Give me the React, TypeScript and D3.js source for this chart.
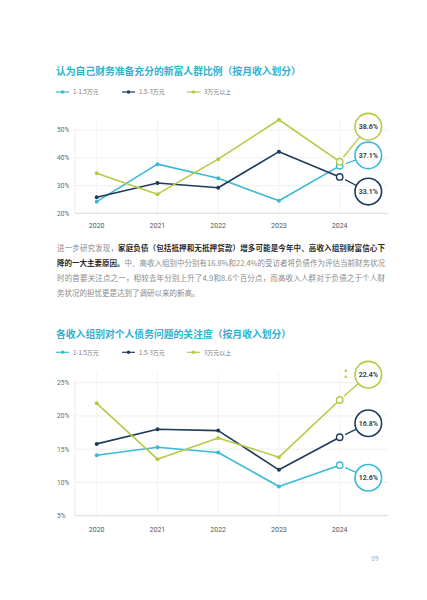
import React, { useEffect, useRef } from "react";
import * as d3 from "d3";

// shared categories
const years = ["2020", "2021", "2022", "2023", "2024"];
const seriesNames = ["1-1.5万元", "1.5-3万元", "3万元以上"];
const seriesColors = ["#3bb9d6", "#1f3b5c", "#b5ca45"];

// chart 1: share who feel financially prepared
const prepLow = [24.2, 37.7, 32.6, 24.5, 37.1];
const prepMid = [25.8, 30.9, 29.2, 42.2, 33.1];
const prepHigh = [34.4, 26.9, 39.5, 53.7, 38.6];
const prepTicks = [20, 30, 40, 50];

// chart 2: concern about personal debt
const debtLow = [14.1, 15.3, 14.5, 9.4, 12.6];
const debtMid = [15.8, 18.0, 17.8, 11.9, 16.8];
const debtHigh = [21.9, 13.5, 16.7, 13.8, 22.4];
const debtTicks = [5, 10, 15, 20, 25];

const paragraph = [
	[
		{ t: "进一步研究发现，", b: false },
		{ t: "家庭负债（包括抵押和无抵押贷款）增多可能是今年中、高收入组别财富信心下", b: true },
	],
	[
		{ t: "降的一大主要原因。", b: true },
		{ t: "中、高收入组别中分别有16.8%和22.4%的受访者将负债作为评估当前财务状况", b: false },
	],
	[{ t: "时的首要关注点之一，相较去年分别上升了4.9和8.6个百分点，而高收入人群对于负债之于个人财", b: false }],
	[{ t: "务状况的担忧更是达到了调研以来的新高。", b: false }],
];

const FONT = "'Noto Sans CJK SC', 'Noto Sans', sans-serif";
const NUM_FONT = "Roboto, 'Noto Sans', sans-serif";

type ChartCfg = {
	title: string;
	titleY: number;
	legendY: number;
	series: number[][];
	ticks: number[];
	yTop: number;
	yBottom: number;
	labelY: number;
	calloutDy: number[];
	arrows?: boolean;
};

function drawChart(svg: d3.Selection<SVGSVGElement, unknown, null, undefined>, cfg: ChartCfg) {
	const g = svg.append("g");
	const plotLeft = 75;
	const plotRight = 388;

	g.append("text")
		.attr("x", 56)
		.attr("y", cfg.titleY)
		.attr("font-family", FONT)
		.attr("font-size", 9.8)
		.attr("font-weight", 700)
		.attr("fill", "#2eb2cf")
		.text(cfg.title);

	// legend
	const legendX = [56, 122, 187];
	seriesNames.forEach((name, i) => {
		const lg = g.append("g").attr("transform", `translate(${legendX[i]},${cfg.legendY})`);
		lg.append("line").attr("x1", 0).attr("x2", 13).attr("stroke", seriesColors[i]).attr("stroke-width", 1.2);
		lg.append("circle").attr("cx", 6.5).attr("r", 1.7).attr("fill", seriesColors[i]);
		lg.append("text")
			.attr("x", 17)
			.attr("y", 2.2)
			.attr("font-family", FONT)
			.attr("font-size", 6)
			.attr("fill", "#777")
			.text(name);
	});

	const x = d3.scalePoint<string>().domain(years).range([96.7, 339.7]);
	const lo = d3.min(cfg.ticks) as number;
	const hi = d3.max(cfg.ticks) as number;
	const y = d3.scaleLinear().domain([lo, hi]).range([cfg.yBottom, cfg.yTop]);

	// grid
	g.selectAll(".hgrid")
		.data(cfg.ticks.filter((t) => t !== lo))
		.enter()
		.append("line")
		.attr("x1", plotLeft)
		.attr("x2", plotRight)
		.attr("y1", (d) => y(d))
		.attr("y2", (d) => y(d))
		.attr("stroke", "#ececec")
		.attr("stroke-width", 0.8);
	g.selectAll(".vgrid")
		.data(years)
		.enter()
		.append("line")
		.attr("x1", (d) => x(d) as number)
		.attr("x2", (d) => x(d) as number)
		.attr("y1", y(hi) - 10)
		.attr("y2", y(lo))
		.attr("stroke", "#f0f0f0")
		.attr("stroke-width", 0.8);
	g.append("line")
		.attr("x1", plotLeft)
		.attr("x2", plotLeft)
		.attr("y1", y(hi) - 2)
		.attr("y2", y(lo))
		.attr("stroke", "#e6e6e6")
		.attr("stroke-width", 0.8);
	g.append("line")
		.attr("x1", plotLeft)
		.attr("x2", plotRight)
		.attr("y1", y(lo))
		.attr("y2", y(lo))
		.attr("stroke", "#d6d6d6")
		.attr("stroke-width", 0.9);

	// axis labels
	g.selectAll(".ylab")
		.data(cfg.ticks)
		.enter()
		.append("text")
		.attr("x", 57)
		.attr("y", (d) => y(d) + 2.4)
		.attr("font-family", NUM_FONT)
		.attr("font-size", 6.6)
		.attr("fill", "#666")
		.text((d) => `${d}%`);
	g.selectAll(".xlab")
		.data(years)
		.enter()
		.append("text")
		.attr("x", (d) => x(d) as number)
		.attr("y", cfg.labelY)
		.attr("text-anchor", "middle")
		.attr("font-family", NUM_FONT)
		.attr("font-size", 7)
		.attr("fill", "#555")
		.text((d) => d);

	const line = d3
		.line<number>()
		.x((_, i) => x(years[i]) as number)
		.y((d) => y(d));

	cfg.series.forEach((vals, si) => {
		const color = seriesColors[si];
		g.append("path")
			.attr("d", line(vals) as string)
			.attr("fill", "none")
			.attr("stroke", color)
			.attr("stroke-width", 1.6)
			.attr("stroke-linejoin", "round");
		g.selectAll(`.pt${si}`)
			.data(vals.slice(0, vals.length - 1))
			.enter()
			.append("circle")
			.attr("cx", (_, i) => x(years[i]) as number)
			.attr("cy", (d) => y(d))
			.attr("r", 2)
			.attr("fill", color);

		const last = vals[vals.length - 1];
		const px = x(years[years.length - 1]) as number;
		const py = y(last);
		g.append("circle")
			.attr("cx", px)
			.attr("cy", py)
			.attr("r", 3.2)
			.attr("fill", "#fff")
			.attr("stroke", color)
			.attr("stroke-width", 1.4);

		// callout bubble
		const cx = px + 28.6;
		const cy = py + cfg.calloutDy[si];
		const r = 13.3;
		const dx = cx - px;
		const dy = cy - py;
		const len = Math.sqrt(dx * dx + dy * dy);
		const ux = dx / len;
		const uy = dy / len;
		g.append("line")
			.attr("x1", px + ux * 6)
			.attr("y1", py + uy * 6)
			.attr("x2", cx - ux * r)
			.attr("y2", cy - uy * r)
			.attr("stroke", color)
			.attr("stroke-width", 1.3);
		g.append("circle")
			.attr("cx", cx)
			.attr("cy", cy)
			.attr("r", r)
			.attr("fill", "#fff")
			.attr("stroke", color)
			.attr("stroke-width", 1.6);
		g.append("text")
			.attr("x", cx)
			.attr("y", cy + 2.5)
			.attr("text-anchor", "middle")
			.attr("font-family", NUM_FONT)
			.attr("font-size", 7)
			.attr("font-weight", 700)
			.attr("fill", "#444")
			.text(`${last.toFixed(1)}%`);

		if (cfg.arrows && si === 2) {
			[-3, 3].forEach((o) => {
				g.append("path")
					.attr("d", d3.symbol(d3.symbolTriangle, 5)() as string)
					.attr("transform", `translate(${cx - 22.5},${cy + o - 1})`)
					.attr("fill", color);
			});
		}
	});
}

const App: React.FC = () => {
	const ref = useRef<SVGSVGElement | null>(null);

	useEffect(() => {
		if (!ref.current) return;
		const svg = d3.select(ref.current);

		drawChart(svg, {
			title: "认为自己财务准备充分的新富人群比例（按月收入划分）",
			titleY: 75,
			legendY: 92,
			series: [prepLow, prepMid, prepHigh],
			ticks: prepTicks,
			yTop: 130,
			yBottom: 213.3,
			labelY: 228.3,
			calloutDy: [-10.5, 14.6, -35],
		});

		// body text
		const para = svg
			.append("text")
			.attr("font-family", FONT)
			.attr("font-size", 7.5);
		paragraph.forEach((ln, i) => {
			const t = svg
				.append("text")
				.attr("x", 57)
				.attr("y", 251 + i * 14.9)
				.attr("font-family", FONT)
				.attr("font-size", 7.5);
			if (i < 3) t.attr("textLength", 328).attr("lengthAdjust", "spacing");
			ln.forEach((seg) => {
				t.append("tspan")
					.attr("font-weight", seg.b ? 700 : 400)
					.attr("fill", seg.b ? "#2a2a2a" : "#8a8a8a")
					.text(seg.t);
			});
		});
		para.remove();

		drawChart(svg, {
			title: "各收入组别对个人债务问题的关注度（按月收入划分）",
			titleY: 338,
			legendY: 352.3,
			series: [debtLow, debtMid, debtHigh],
			ticks: debtTicks,
			yTop: 382.7,
			yBottom: 515.7,
			labelY: 532,
			calloutDy: [12.6, -14, -25.3],
			arrows: true,
		});

		svg.append("text")
			.attr("x", 375)
			.attr("y", 560.5)
			.attr("text-anchor", "middle")
			.attr("font-family", NUM_FONT)
			.attr("font-size", 6.5)
			.attr("fill", "#aaa")
			.text("09");

		return () => {
			svg.selectAll("*").remove();
		};
	}, []);

	return (
		<svg
			ref={ref}
			width={427}
			height={600}
			style={{ position: "absolute", left: 0, top: 0, background: "#fff" }}
		/>
	);
};

export default App;
